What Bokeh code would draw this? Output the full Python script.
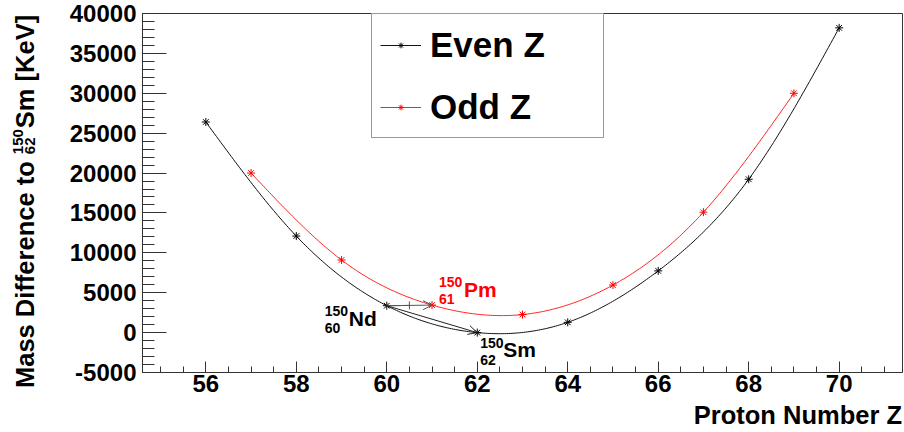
import numpy as np
from bokeh.plotting import figure
from bokeh.layouts import row, column
from bokeh.models import (Range1d, SingleIntervalTicker, Label, Legend, LegendItem, Div,
                          Arrow, OpenHead, TeeHead, PrintfTickFormatter)
from bokeh.embed import file_html
from bokeh.resources import INLINE

# ---------------- data ----------------
even_z = [56, 58, 60, 62, 64, 66, 68, 70]
even_dm = [26400, 12100, 3370, 0, 1290, 7740, 19220, 38200]
odd_z = [57, 59, 61, 63, 65, 67, 69]
odd_dm = [20000, 9100, 3450, 2260, 5960, 15100, 30000]
series_names = ["Even Z", "Odd Z"]
x_title = "Proton Number Z"
y_title_parts = ["Mass Difference to ", "150", "62", "Sm [KeV]"]
# annotated nuclei: (series, index, mass number, Z label, symbol)
nuclei = [("even", 2, "150", "60", "Nd"), ("odd", 2, "150", "61", "Pm"), ("even", 3, "150", "62", "Sm")]

# ---------------- layout ----------------
W, H = 904, 432
LW = 40                      # width of the y-title strip
XH = 28                      # height of the x-title strip
PH = H - XH
BL, BR, BT, BB = 142 - LW, 2, 13, 32
X0, X1 = 54.6, 71.4
Y0, Y1 = -5000, 40000
FONT = "Liberation Sans"


def natural_spline(x, y, n=300):
    x = np.asarray(x, float); y = np.asarray(y, float)
    k = len(x)
    h = np.diff(x)
    A = np.zeros((k, k)); b = np.zeros(k)
    A[0, 0] = 1; A[-1, -1] = 1
    for i in range(1, k - 1):
        A[i, i - 1] = h[i - 1]
        A[i, i] = 2 * (h[i - 1] + h[i])
        A[i, i + 1] = h[i]
        b[i] = 6 * ((y[i + 1] - y[i]) / h[i] - (y[i] - y[i - 1]) / h[i - 1])
    M = np.linalg.solve(A, b)
    xs = np.linspace(x[0], x[-1], n)
    idx = np.clip(np.searchsorted(x, xs) - 1, 0, k - 2)
    xa, xb = x[idx], x[idx + 1]
    hh = xb - xa
    t1 = xb - xs; t2 = xs - xa
    ys = (M[idx] * t1 ** 3 + M[idx + 1] * t2 ** 3) / (6 * hh) \
        + (y[idx] / hh - M[idx] * hh / 6) * t1 + (y[idx + 1] / hh - M[idx + 1] * hh / 6) * t2
    return xs, ys


p = figure(width=W - LW, height=PH, x_range=Range1d(X0, X1), y_range=Range1d(Y0, Y1),
           output_backend="svg", toolbar_location=None,
           min_border_left=BL, min_border_right=BR, min_border_top=BT, min_border_bottom=BB)
p.grid.visible = False
p.outline_line_color = "#333333"
p.outline_line_width = 1
p.background_fill_color = "white"
p.border_fill_color = "white"

p.xaxis.ticker = SingleIntervalTicker(interval=2, num_minor_ticks=4)
p.yaxis.ticker = SingleIntervalTicker(interval=5000, num_minor_ticks=5)
for ax in (p.xaxis[0], p.yaxis[0]):
    ax.formatter = PrintfTickFormatter(format="%d")
    ax.axis_line_color = "#333333"
    ax.major_tick_line_color = "#333333"
    ax.minor_tick_line_color = "#333333"
    ax.major_tick_out = 0
    ax.minor_tick_out = 0
    ax.major_label_text_font = FONT
    ax.major_label_text_font_style = "bold"
    ax.major_label_text_font_size = "24px"
    ax.major_label_text_color = "black"
p.xaxis.major_tick_in = 11
p.xaxis.minor_tick_in = 6
p.xaxis.major_label_standoff = 2
p.yaxis.major_tick_in = 24
p.yaxis.minor_tick_in = 12
p.yaxis.major_label_standoff = 6

# curves
ex, ey = natural_spline(even_z, even_dm)
ox, oy = natural_spline(odd_z, odd_dm)
l_even = p.line(ex, ey, line_color="#111111", line_width=1)
s_even = p.scatter(even_z, even_dm, marker="asterisk", size=8, line_color="black", line_width=1)
l_odd = p.line(ox, oy, line_color="#ff2020", line_width=1)
s_odd = p.scatter(odd_z, odd_dm, marker="asterisk", size=8, line_color="red", line_width=1)

# arrows
nd = (even_z[2], even_dm[2]); pm = (odd_z[2], odd_dm[2]); sm = (even_z[3], even_dm[3])
p.add_layout(Arrow(end=OpenHead(size=9, line_color="#555555", line_width=1),
                   x_start=nd[0], y_start=nd[1], x_end=pm[0], y_end=pm[1],
                   line_color="#555555", line_width=1))
p.add_layout(Arrow(end=TeeHead(size=8, line_color="#555555", line_width=1),
                   x_start=nd[0], y_start=nd[1], x_end=(nd[0] + pm[0]) / 2, y_end=(nd[1] + pm[1]) / 2,
                   line_color="#555555", line_width=1))
p.add_layout(Arrow(end=OpenHead(size=9, line_color="#222222", line_width=1),
                   x_start=nd[0], y_start=nd[1], x_end=sm[0], y_end=sm[1],
                   line_color="#222222", line_width=1))

# nuclide labels
offsets = {
    "Nd": dict(sup=(-62, -5), sub=(-62, -22), main=(-38, -13), color="black"),
    "Pm": dict(sup=(7, 23), sub=(7, 6), main=(32, 16), color="red"),
    "Sm": dict(sup=(3, -10), sub=(3, -27), main=(26, -17), color="black"),
}
for ser, i, a, zl, sym in nuclei:
    zz = even_z if ser == "even" else odd_z
    dd = even_dm if ser == "even" else odd_dm
    o = offsets[sym]
    for txt, key, fs in ((a, "sup", "14px"), (zl, "sub", "14px"), (sym, "main", "21px")):
        p.add_layout(Label(x=zz[i], y=dd[i], x_offset=o[key][0], y_offset=o[key][1], text=txt,
                           text_font=FONT, text_font_style="bold", text_font_size=fs,
                           text_color=o["color"], text_align="left", text_baseline="alphabetic"))

legend = Legend(items=[LegendItem(label=series_names[0], renderers=[l_even, s_even]),
                       LegendItem(label=series_names[1], renderers=[l_odd, s_odd])],
                location=(229, 234), margin=0, padding=8, spacing=17,
                glyph_width=41, glyph_height=14, label_height=45, label_width=165, label_standoff=9,
                label_text_font=FONT, label_text_font_style="bold", label_text_font_size="35px",
                label_text_color="black",
                border_line_color="#333333", border_line_width=1, background_fill_color="white",
                background_fill_alpha=1)
p.add_layout(legend, "center")

# ---------------- y title strip (rotated HTML text with stacked scripts) ----------------
font_css = "font-family:'Liberation Sans',Arial,sans-serif;font-weight:bold;color:black;"
y_html = (
    f'<div style="position:relative;width:{LW}px;height:{PH}px;overflow:visible;">'
    f'<div style="position:absolute;left:13.4px;top:388px;transform-origin:0 0;'
    f'transform:rotate(-90deg);white-space:nowrap;{font_css}font-size:25.5px;line-height:1;">'
    f'{y_title_parts[0].replace(" ", "&nbsp;")}'
    f'<span style="display:inline-block;position:relative;width:26px;height:1px;">'
    f'<span style="position:absolute;left:0;bottom:8.7px;font-size:15px;line-height:1;">{y_title_parts[1]}</span>'
    f'<span style="position:absolute;left:0;bottom:-3.3px;font-size:15px;line-height:1;">{y_title_parts[2]}</span>'
    f'</span>{y_title_parts[3]}</div></div>'
)
ydiv = Div(text=y_html, width=LW, height=PH, margin=0)

# ---------------- x title strip ----------------
x_html = (
    f'<div style="position:relative;width:{W}px;height:{XH}px;">'
    f'<div style="position:absolute;right:{BR}px;top:-0.6px;white-space:nowrap;{font_css}'
    f'font-size:25.5px;line-height:1;">{x_title}</div></div>'
)
xdiv = Div(text=x_html, width=W, height=XH, margin=0)

layout = column(row(ydiv, p, spacing=0), xdiv, spacing=0)
open("out.html", "w").write(file_html(layout, INLINE))
